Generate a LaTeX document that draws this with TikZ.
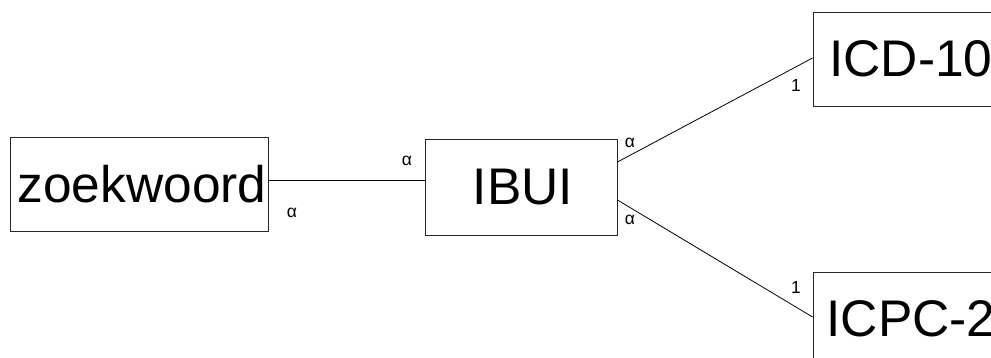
\documentclass[tikz,border=0pt]{standalone}
\usepackage{fontspec}
\setmainfont{Liberation Sans}
\usetikzlibrary{calc}
\begin{document}
\begin{tikzpicture}[x=1pt,y=-1pt,
  box/.style={draw=black!85, line width=0.9pt, inner sep=0pt, font=\fontsize{51.5}{52}\selectfont},
  conn/.style={draw=black, line width=0.8pt},
  card/.style={inner sep=0pt, font=\fontsize{17.5}{18}\selectfont}]
\clip (0,0) rectangle (991,358);
\fill[white] (0,0) rectangle (991,358);
\node[box, minimum width=258pt, minimum height=94pt] (zw) at (139,184) {\hspace{6pt}zoekwoord};
\node[box, minimum width=192pt, minimum height=96pt] (ibui) at (521,187) {\hspace{4pt}IBUI};
\node[box, minimum width=196pt, minimum height=94pt] (icd) at (911,59) {ICD-10};
\node[box, minimum width=196pt, minimum height=94pt] (icpc) at (911,319) {ICPC-2};
\draw[conn] ([yshift=4pt]zw.east) -- ([yshift=7pt]ibui.west);
\draw[conn] ([yshift=25pt]ibui.east) -- ([yshift=1pt]icd.west);
\draw[conn] ([yshift=-13pt]ibui.east) -- ([yshift=2pt]icpc.west);
\node[card] (a1) at (292,213) {α};
\node[card] (a2) at (407,161) {α};
\node[card] (a3) at (630,143) {α};
\node[card] (a4) at (630,220) {α};
\node[card] (o1) at (796,85) {1};
\node[card] (o2) at (796,287) {1};
\end{tikzpicture}
\end{document}
